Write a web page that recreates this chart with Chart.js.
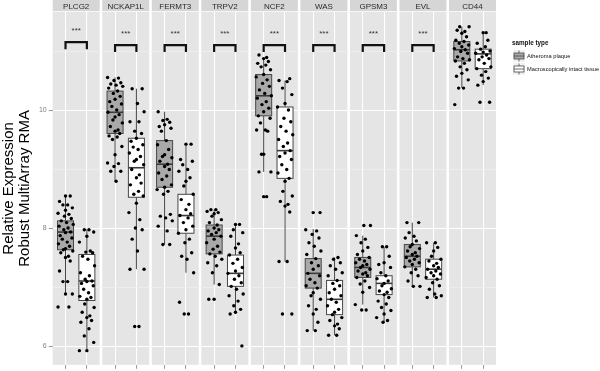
<!DOCTYPE html>
<html>
<head>
<meta charset="utf-8">
<script src="https://cdn.jsdelivr.net/npm/chart.js@4.4.1/dist/chart.umd.min.js"></script>
<style>
	body { margin: 0; background: #fff; }
	#wrap { width: 600px; height: 371px; }
</style>
</head>
<body>
<div id="wrap"><canvas id="boxcanvas" width="600" height="371"></canvas></div>
<script>
var genes = ['PLCG2', 'NCKAP1L', 'FERMT3', 'TRPV2', 'NCF2', 'WAS', 'GPSM3', 'EVL', 'CD44'];
var groups = ['Atheroma plaque', 'Macroscopically intact tissue'];
var yTicks = [6, 7, 8, 9, 10, 11];
var sigLabels = ['***', '***', '***', '***', '***', '***', '***', '***', ''];

// box stats: lower whisker, q1, median, q3, upper whisker
var plaqueStats = [
	[6.89, 7.64, 7.94, 8.13, 8.55],
	[8.80, 9.61, 9.97, 10.33, 10.56],
	[7.73, 8.70, 9.09, 9.49, 9.98],
	[7.05, 7.57, 7.87, 8.06, 8.32],
	[8.96, 9.91, 10.25, 10.61, 10.90],
	[6.27, 6.99, 7.24, 7.49, 7.99],
	[6.71, 7.17, 7.34, 7.51, 7.88],
	[7.02, 7.35, 7.53, 7.73, 8.10],
	[10.38, 10.84, 11.03, 11.17, 11.42]
];
var intactStats = [
	[5.93, 6.78, 7.11, 7.56, 7.99],
	[7.31, 8.53, 9.03, 9.53, 10.37],
	[7.25, 7.92, 8.22, 8.58, 9.43],
	[6.55, 7.02, 7.24, 7.55, 8.07],
	[7.44, 8.85, 9.32, 10.06, 10.51],
	[6.19, 6.54, 6.80, 7.12, 7.51],
	[6.41, 6.88, 7.07, 7.20, 7.69],
	[6.83, 7.14, 7.31, 7.48, 7.76],
	[10.43, 10.71, 10.96, 11.04, 11.32]
];

// individual samples
var plaquePoints = [
	[8.55,8.55,8.46,8.40,8.40,8.35,8.31,8.26,8.24,8.21,8.17,8.13,8.10,8.07,8.04,8.01,7.98,7.94,7.93,7.88,7.84,7.82,7.77,7.74,7.70,7.66,7.64,7.62,7.59,7.53,7.51,7.45,7.28,7.10,7.10,6.89,6.89,6.67,6.67],
	[10.56,10.55,10.51,10.47,10.45,10.43,10.41,10.38,10.33,10.29,10.24,10.19,10.15,10.11,10.07,10.01,9.97,9.93,9.89,9.84,9.79,9.73,9.67,9.65,9.61,9.57,9.55,9.51,9.39,9.25,9.11,9.10,9.05,8.97,8.97,8.80],
	[9.98,9.85,9.83,9.80,9.76,9.73,9.70,9.65,9.49,9.42,9.34,9.25,9.22,9.20,9.14,9.09,9.05,9.00,8.94,8.89,8.83,8.74,8.70,8.66,8.63,8.58,8.24,8.21,8.18,8.13,8.04,7.96,7.73,7.73],
	[8.32,8.32,8.29,8.27,8.25,8.21,8.15,8.10,8.06,8.01,7.98,7.96,7.93,7.90,7.87,7.82,7.76,7.70,7.65,7.60,7.57,7.53,7.48,7.42,7.37,7.25,7.05,6.80,6.80],
	[10.94,10.90,10.88,10.83,10.80,10.77,10.74,10.69,10.61,10.57,10.52,10.46,10.41,10.35,10.29,10.25,10.21,10.15,10.10,10.04,9.98,9.91,9.87,9.79,9.67,9.67,9.65,9.26,9.26,8.96,8.96,8.54,8.54],
	[8.27,8.27,7.98,7.96,7.90,7.84,7.76,7.70,7.62,7.56,7.49,7.42,7.37,7.31,7.24,7.20,7.14,7.08,7.03,6.99,6.91,6.86,6.80,6.69,6.63,6.55,6.41,6.27,6.27],
	[8.05,8.05,7.88,7.82,7.76,7.68,7.62,7.56,7.51,7.48,7.45,7.42,7.39,7.37,7.34,7.31,7.28,7.25,7.23,7.20,7.17,7.11,7.06,7.00,6.92,6.71,6.62,6.62],
	[8.10,8.10,7.93,7.87,7.84,7.79,7.73,7.69,7.66,7.62,7.59,7.56,7.53,7.51,7.48,7.45,7.42,7.39,7.35,7.31,7.25,7.20,7.11,7.02,7.02],
	[11.42,11.42,11.36,11.34,11.31,11.25,11.19,11.17,11.14,11.11,11.08,11.05,11.03,11.00,10.97,10.91,10.88,10.86,10.84,10.80,10.74,10.69,10.63,10.58,10.52,10.38,10.38,10.10]
];
var intactPoints = [
	[7.98,7.98,7.94,7.87,7.77,7.62,7.60,7.59,7.53,7.48,7.37,7.25,7.20,7.14,7.11,7.10,7.07,7.03,6.97,6.91,6.85,6.83,6.80,6.72,6.66,6.58,6.52,6.49,6.44,6.41,6.30,6.18,6.07,5.93,5.93],
	[10.37,10.37,10.12,9.98,9.81,9.81,9.65,9.61,9.53,9.48,9.42,9.38,9.34,9.28,9.22,9.17,9.14,9.08,9.00,8.91,8.86,8.77,8.74,8.63,8.58,8.55,8.43,8.27,8.15,8.01,7.98,7.82,7.62,7.31,7.31,6.34,6.34],
	[9.43,9.43,9.17,9.14,9.08,9.00,8.97,8.86,8.80,8.72,8.58,8.49,8.41,8.32,8.25,8.22,8.18,8.10,8.04,7.98,7.92,7.82,7.76,7.59,7.53,7.48,7.25,6.75,6.55,6.55],
	[8.07,8.07,7.98,7.93,7.87,7.74,7.67,7.59,7.55,7.48,7.41,7.34,7.28,7.24,7.20,7.14,7.08,7.02,6.97,6.89,6.86,6.77,6.69,6.63,6.58,6.55,6.01],
	[10.54,10.51,10.49,10.38,10.27,10.12,10.06,10.01,9.87,9.81,9.73,9.65,9.59,9.51,9.45,9.39,9.32,9.28,9.22,9.17,9.08,9.00,8.94,8.85,8.80,8.63,8.55,8.46,8.41,8.38,8.28,7.44,7.44,6.55,6.55],
	[7.51,7.48,7.42,7.37,7.31,7.25,7.20,7.12,7.07,7.03,6.97,6.91,6.86,6.80,6.75,6.69,6.63,6.58,6.54,6.49,6.44,6.38,6.35,6.30,6.19,6.19],
	[7.69,7.69,7.53,7.42,7.39,7.34,7.25,7.20,7.15,7.11,7.07,7.03,6.98,6.94,6.92,6.88,6.83,6.77,6.72,6.66,6.61,6.55,6.49,6.44,6.41],
	[7.76,7.76,7.68,7.62,7.53,7.48,7.45,7.41,7.37,7.34,7.31,7.28,7.25,7.23,7.20,7.17,7.14,7.08,7.03,6.97,6.89,6.86,6.83,6.83],
	[11.32,11.32,11.19,11.14,11.08,11.04,11.01,10.99,10.97,10.94,10.91,10.88,10.86,10.80,10.74,10.71,10.66,10.60,10.55,10.49,10.43,10.14,10.14]
];

// significance bracket heights (top, leg end) and star height, per facet
var bracketTop = [11.16, 11.11, 11.11, 11.11, 11.11, 11.11, 11.11, 11.11];
var bracketLeg = [11.04, 10.99, 10.99, 10.99, 10.99, 10.99, 10.99, 10.99];
var starY = [11.36, 11.31, 11.31, 11.31, 11.31, 11.31, 11.31, 11.31];

// facet layout in x units
var PITCH = 2.32;
var PANEL = 2.2;
var jitter = [0, 0.22, -0.28, 0.1, -0.12, 0.32, 0, -0.35, 0.16, -0.05, 0.27, -0.2, 0.05, 0.36, -0.3, 0.12, -0.08, 0.24, 0, -0.25, 0.3, -0.15, 0.08, -0.33, 0.19, 0, -0.1, 0.34, -0.22, 0.14];
var FONT = "'Liberation Sans', Arial, Helvetica, sans-serif";

function boxX(i, g) { return i * PITCH + 0.6 + g; }

var tickPositions = [];
for (var i = 0; i < genes.length; i++) {
	tickPositions.push(boxX(i, 0));
	tickPositions.push(boxX(i, 1));
}

var datasets = [];
[plaquePoints, intactPoints].forEach(function(pts, g) {
	var data = [];
	for (var i = 0; i < pts.length; i++) {
		for (var k = 0; k < pts[i].length; k++) {
			data.push({ x: boxX(i, g) + jitter[(k + i * 7 + g * 3) % jitter.length], y: pts[i][k] });
		}
	}
	datasets.push({
		type: 'scatter',
		label: groups[g],
		data: data,
		pointRadius: 1.7,
		pointBorderWidth: 0,
		pointBackgroundColor: '#000',
		order: 1
	});
});

for (var i = 0; i < sigLabels.length; i++) {
	if (!sigLabels[i]) continue;
	datasets.push({
		type: 'line',
		label: 'sig ' + genes[i],
		data: [
			{ x: boxX(i, 0), y: bracketLeg[i] },
			{ x: boxX(i, 0), y: bracketTop[i] },
			{ x: boxX(i, 1), y: bracketTop[i] },
			{ x: boxX(i, 1), y: bracketLeg[i] }
		],
		borderColor: '#111',
		borderWidth: 2.2,
		pointRadius: 0,
		fill: false,
		tension: 0,
		order: 0
	});
}

var facetPlugin = {
	id: 'facets',
	beforeDraw: function(chart) {
		var ctx = chart.ctx, x = chart.scales.x, a = chart.chartArea;
		ctx.save();
		for (var i = 0; i < genes.length; i++) {
			var l = x.getPixelForValue(i * PITCH), r = x.getPixelForValue(i * PITCH + PANEL);
			ctx.fillStyle = '#E5E5E5';
			ctx.fillRect(l, a.top, r - l, a.bottom - a.top);
			ctx.fillStyle = '#D6D6D6';
			ctx.fillRect(l, 0, r - l, a.top - 0.8);
			ctx.fillStyle = '#2a2a2a';
			ctx.font = '8px ' + FONT;
			ctx.textAlign = 'center';
			ctx.textBaseline = 'middle';
			ctx.fillText(genes[i], (l + r) / 2, a.top / 2 + 0.5);
		}
		ctx.restore();
	},
	beforeDatasetsDraw: function(chart) {
		var ctx = chart.ctx, x = chart.scales.x, y = chart.scales.y;
		ctx.save();
		[plaqueStats, intactStats].forEach(function(stats, g) {
			for (var i = 0; i < stats.length; i++) {
				var s = stats[i];
				var cx = x.getPixelForValue(boxX(i, g));
				var l = x.getPixelForValue(boxX(i, g) - 0.375), r = x.getPixelForValue(boxX(i, g) + 0.375);
				ctx.strokeStyle = '#474747';
				ctx.lineWidth = 1;
				ctx.beginPath();
				ctx.moveTo(cx, y.getPixelForValue(s[0]));
				ctx.lineTo(cx, y.getPixelForValue(s[1]));
				ctx.moveTo(cx, y.getPixelForValue(s[3]));
				ctx.lineTo(cx, y.getPixelForValue(s[4]));
				ctx.stroke();
				var t = y.getPixelForValue(s[3]), b = y.getPixelForValue(s[1]);
				ctx.fillStyle = g === 0 ? '#A9A9A9' : '#FFFFFF';
				ctx.fillRect(l, t, r - l, b - t);
				ctx.strokeRect(l, t, r - l, b - t);
				ctx.lineWidth = 1.6;
				ctx.strokeStyle = '#3a3a3a';
				ctx.beginPath();
				var m = y.getPixelForValue(s[2]);
				ctx.moveTo(l, m);
				ctx.lineTo(r, m);
				ctx.stroke();
			}
		});
		ctx.restore();
	},
	afterDraw: function(chart) {
		var ctx = chart.ctx, x = chart.scales.x, y = chart.scales.y;
		ctx.save();
		ctx.fillStyle = '#333';
		ctx.font = '8px ' + FONT;
		ctx.textAlign = 'center';
		ctx.textBaseline = 'middle';
		for (var i = 0; i < sigLabels.length; i++) {
			if (!sigLabels[i]) continue;
			ctx.fillText(sigLabels[i], x.getPixelForValue(boxX(i, 0) + 0.5), y.getPixelForValue(starY[i]) + 1);
		}
		// legend
		ctx.textAlign = 'left';
		ctx.fillStyle = '#111';
		ctx.font = 'bold 6.3px ' + FONT;
		ctx.fillText('sample type', 512, 43.5);
		ctx.font = '5.7px ' + FONT;
		var fills = ['#A9A9A9', '#FFFFFF'];
		for (var g = 0; g < groups.length; g++) {
			var ky = 50 + g * 13;
			ctx.fillStyle = '#F2F2F2';
			ctx.fillRect(513, ky, 12, 12);
			ctx.strokeStyle = '#474747';
			ctx.lineWidth = 0.8;
			ctx.beginPath();
			ctx.moveTo(519, ky + 0.5);
			ctx.lineTo(519, ky + 11.5);
			ctx.stroke();
			ctx.fillStyle = fills[g];
			ctx.fillRect(514, ky + 3, 10, 6);
			ctx.strokeRect(514, ky + 3, 10, 6);
			ctx.beginPath();
			ctx.moveTo(514, ky + 6);
			ctx.lineTo(524, ky + 6);
			ctx.stroke();
			ctx.fillStyle = '#111';
			ctx.fillText(groups[g], 527, ky + 6);
		}
		ctx.restore();
	}
};

var ctx = document.getElementById('boxcanvas');
var boxChart = new Chart(ctx, {
	data: { datasets: datasets },
	plugins: [facetPlugin],
	options: {
		responsive: false,
		animation: false,
		events: [],
		layout: { padding: { top: 12, right: 104, left: 0, bottom: 0 } },
		plugins: { legend: { display: false }, tooltip: { enabled: false } },
		scales: {
			x: {
				type: 'linear',
				min: 0,
				max: 8 * PITCH + PANEL,
				afterBuildTicks: function(scale) { scale.ticks = tickPositions.map(function(v) { return { value: v }; }); },
				afterFit: function(scale) { scale.height = 5; },
				ticks: { display: false },
				grid: { color: '#FFFFFF', lineWidth: 1.1, tickLength: 4, tickColor: '#7F7F7F', tickWidth: 0.8 },
				border: { display: false }
			},
			y: {
				type: 'linear',
				min: 5.69,
				max: 11.67,
				afterBuildTicks: function(scale) { scale.ticks = yTicks.map(function(v) { return { value: v }; }); },
				afterFit: function(scale) { scale.width = 52.7; },
				ticks: {
					color: '#7F7F7F',
					font: { size: 7, family: FONT },
					padding: 2,
					callback: function(v) { return v % 2 === 0 ? String(v) : ''; }
				},
				grid: {
					color: function(c) { return c.tick && c.tick.value % 2 === 0 ? '#FFFFFF' : '#F2F2F2'; },
					lineWidth: function(c) { return c.tick && c.tick.value % 2 === 0 ? 1.1 : 0.6; },
					tickLength: 4,
					tickColor: function(c) { return c.tick && c.tick.value % 2 === 0 ? '#7F7F7F' : 'rgba(0,0,0,0)'; },
					tickWidth: 0.8
				},
				border: { display: false },
				title: {
					display: true,
					text: ['Relative Expression', 'Robust MultiArray RMA'],
					color: '#000',
					font: { size: 15, family: FONT, lineHeight: 1.07 },
					padding: { top: 1, bottom: 0 }
				}
			}
		}
	}
});
</script>
</body>
</html>
